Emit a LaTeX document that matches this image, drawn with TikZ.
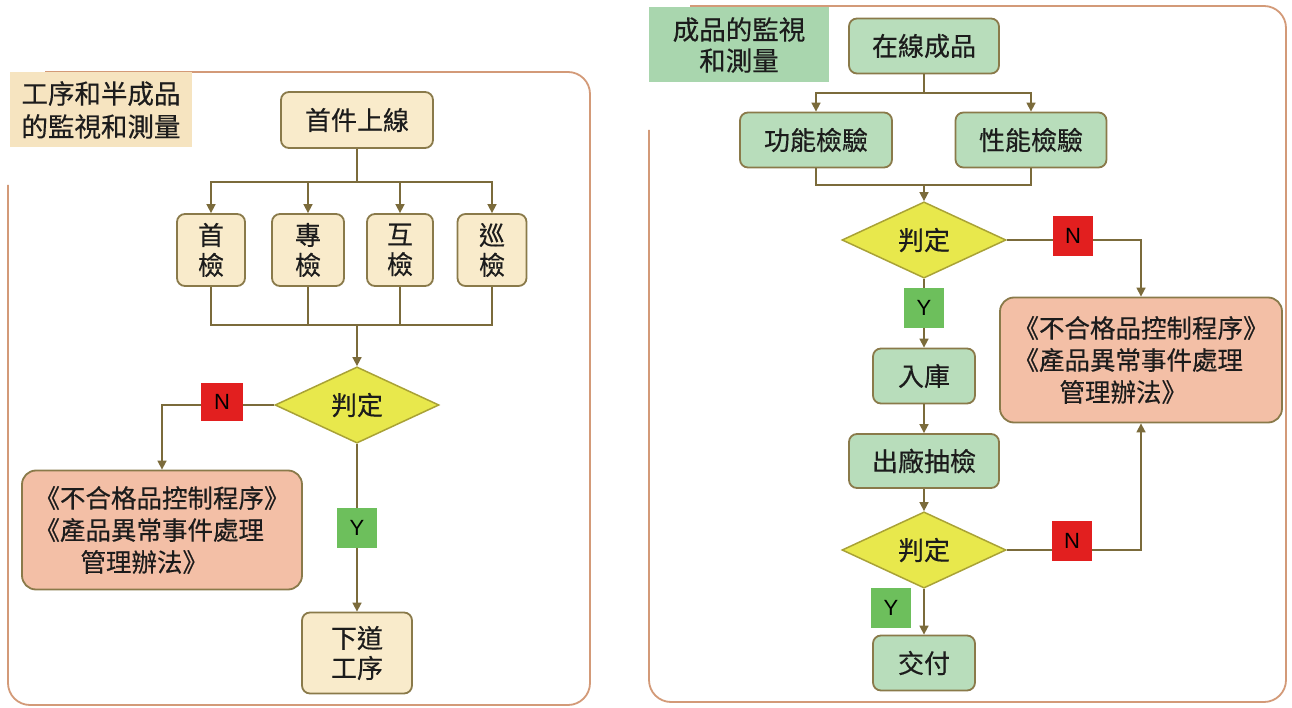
\documentclass[tikz,border=0pt]{standalone}
\usepackage{fontspec}
\setmainfont{Noto Sans CJK TC}[FakeBold=0.4]
\newfontfamily\latinf{Liberation Sans}
\usetikzlibrary{arrows.meta,shapes.geometric}
\definecolor{tanfill}{HTML}{F9EBCB}
\definecolor{tanlabel}{HTML}{F6E4C0}
\definecolor{grnfill}{HTML}{B8DDBB}
\definecolor{grnlabel}{HTML}{A9D6AE}
\definecolor{pinkfill}{HTML}{F3BFA6}
\definecolor{boxline}{HTML}{8A7A4A}
\definecolor{conncol}{HTML}{7B6B3B}
\definecolor{diafill}{HTML}{E8E84C}
\definecolor{dialine}{HTML}{A9A236}
\definecolor{nred}{HTML}{E21F1F}
\definecolor{ygreen}{HTML}{6DBF5C}
\definecolor{framecol}{HTML}{D39A78}
\definecolor{txt}{HTML}{1C1C1C}
\tikzset{
  x=1pt, y=-1pt,
  basebox/.style={rectangle, rounded corners=8pt, draw=boxline, line width=1.8pt,
    inner sep=0pt, align=center, text=txt, font=\fontsize{26}{30}\selectfont},
  tanbox/.style={basebox, fill=tanfill},
  grnbox/.style={basebox, fill=grnfill},
  pinkbox/.style={basebox, fill=pinkfill, rounded corners=14pt, font=\fontsize{25.5}{32}\selectfont},
  decide/.style={diamond, draw=dialine, fill=diafill, line width=1.5pt, inner sep=0pt,
    minimum width=164pt, minimum height=75pt, text=txt, font=\fontsize{26}{28}\selectfont},
  lbl/.style={rectangle, inner sep=0pt, text=txt, font=\fontsize{26.5}{33}\selectfont},
  nbox/.style={rectangle, fill=nred, inner sep=0pt, minimum width=42pt, minimum height=38pt,
    text=black, font=\latinf\fontsize{22}{24}\selectfont},
  ybox/.style={rectangle, fill=ygreen, inner sep=0pt, minimum width=40pt, minimum height=40pt,
    text=black, font=\latinf\fontsize{22}{24}\selectfont},
  conn/.style={draw=conncol, line width=1.6pt},
  arr/.style={conn, -{Triangle[length=9pt,width=9pt]}},
  frame/.style={draw=framecol, line width=1.8pt, rounded corners=22pt},
}
\begin{document}
\begin{tikzpicture}
\useasboundingbox[fill=white] (0,0) rectangle (1292,708);

% ---------------- left panel ----------------
\draw[frame] (45,72) -- (590,72) -- (590,705) -- (8,705) -- (8,185);
\node[lbl, fill=tanlabel, minimum width=182pt, minimum height=75pt, align=left] (LT) at (101,110) {工序和半成品\\的監視和測量};

\node[tanbox, minimum width=152pt, minimum height=56pt] (L0) at (357,120) {首件上線};
\node[tanbox, minimum width=68pt, minimum height=72pt] (L1) at (211,250) {首\\檢};
\node[tanbox, minimum width=72pt, minimum height=72pt] (L2) at (308,250) {專\\檢};
\node[tanbox, minimum width=66pt, minimum height=72pt] (L3) at (400,250) {互\\檢};
\node[tanbox, minimum width=69pt, minimum height=72pt] (L4) at (492,250) {巡\\檢};
\node[decide] (LD) at (357,405) {判定};
\node[pinkbox, minimum width=280pt, minimum height=119pt, align=left] (LP) at (162,530)
  {《不合格品控制程序》\\《產品異常事件處理\\\hspace{46pt}管理辦法》};
\node[tanbox, minimum width=110pt, minimum height=81pt] (LL) at (357,653) {下道\\工序};

\coordinate (Ls) at (357,182);
\draw[conn] (L0.south) -- (Ls);
\draw[arr] (Ls) -| (L1.north);
\draw[arr] (Ls) -| (L2.north);
\draw[arr] (Ls) -| (L3.north);
\draw[arr] (Ls) -| (L4.north);

\coordinate (Lm) at (357,325);
\draw[conn] (L1.south) |- (Lm);
\draw[conn] (L4.south) |- (Lm);
\draw[conn] (L2.south) -- (L2.south |- Lm);
\draw[conn] (L3.south) -- (L3.south |- Lm);
\draw[arr] (Lm) -- (LD.north);

\draw[arr] (LD.west) -| (LP.north);
\draw[arr] (LD.south) -- (LL.north);
\node[nbox] (LN) at (222,402) {N};
\node[ybox] (LY) at (357,528) {Y};

% ---------------- right panel ----------------
\draw[frame] (690,6) -- (1286,6) -- (1286,702) -- (649,702) -- (649,130);
\node[lbl, fill=grnlabel, minimum width=180pt, minimum height=75pt, align=center, font=\fontsize{26.5}{31}\selectfont] (RT) at (739,45) {成品的監視\\和測量};

\node[grnbox, minimum width=150pt, minimum height=55pt] (R0) at (924,46) {在線成品};
\node[grnbox, minimum width=152pt, minimum height=55pt] (R1) at (816,140) {功能檢驗};
\node[grnbox, minimum width=151pt, minimum height=55pt] (R2) at (1031,140) {性能檢驗};
\node[decide] (RD1) at (924,240) {判定};
\node[pinkbox, minimum width=282pt, minimum height=125pt, align=left] (RP) at (1141,360)
  {《不合格品控制程序》\\《產品異常事件處理\\\hspace{46pt}管理辦法》};
\node[grnbox, minimum width=102pt, minimum height=55pt] (R3) at (924,376) {入庫};
\node[grnbox, minimum width=150pt, minimum height=54pt] (R4) at (924,461) {出廠抽檢};
\node[decide] (RD2) at (924,550) {判定};
\node[grnbox, minimum width=102pt, minimum height=55pt] (R5) at (924,663) {交付};

\coordinate (Rs) at (924,93);
\draw[conn] (R0.south) -- (Rs);
\draw[arr] (Rs) -| (R1.north);
\draw[arr] (Rs) -| (R2.north);

\coordinate (Rm) at (924,185);
\draw[conn] (R1.south) |- (Rm);
\draw[conn] (R2.south) |- (Rm);
\draw[arr] (Rm) -- (RD1.north);

\draw[arr] (RD1.east) -| (RP.north);
\draw[arr] (RD1.south) -- (R3.north);
\draw[arr] (R3.south) -- (R4.north);
\draw[arr] (R4.south) -- (RD2.north);
\draw[arr] (RD2.east) -| (RP.south);
\draw[arr] (RD2.south) -- (R5.north);

\node[nbox, minimum width=40pt, minimum height=40pt] (RN1) at (1073,236) {N};
\node[ybox] (RY1) at (924,308) {Y};
\node[nbox, minimum width=40pt, minimum height=40pt] (RN2) at (1072,541) {N};
\node[ybox] (RY2) at (891,608) {Y};
\end{tikzpicture}
\end{document}
